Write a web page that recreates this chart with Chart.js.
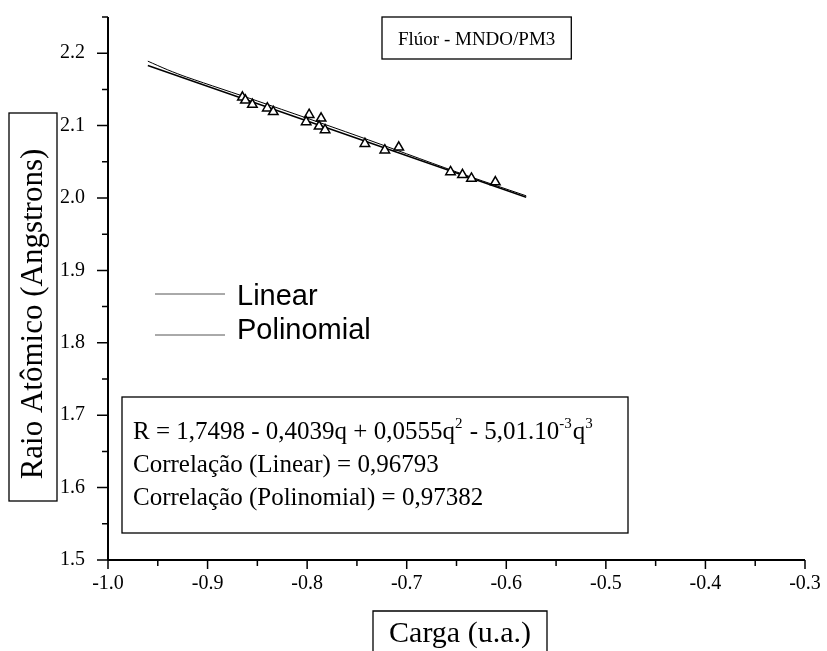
<!DOCTYPE html>
<html>
<head>
<meta charset="utf-8">
<script src="https://cdn.jsdelivr.net/npm/chart.js@4.4.1/dist/chart.umd.min.js"></script>
<style>
html, body { margin: 0; padding: 0; background: #fff; }
#wrap { width: 827px; height: 651px; }
</style>
</head>
<body>
<div id="wrap"><canvas id="raioChart" width="827" height="651"></canvas></div>
<script>
// valores
const carga = [-0.865, -0.862, -0.855, -0.840, -0.834, -0.798, -0.801, -0.786, -0.788,
    -0.782, -0.742, -0.722, -0.708, -0.656, -0.644, -0.635, -0.611];
const raio = [2.139, 2.135, 2.129, 2.124, 2.119, 2.115, 2.105, 2.110, 2.099,
    2.094, 2.075, 2.066, 2.070, 2.036, 2.032, 2.027, 2.022];

const linearX = [-0.960, -0.580];
const linearY = [2.183, 2.001];

const poliX = [-0.960, -0.940, -0.921, -0.850, -0.750, -0.650, -0.580];
const poliY = [2.189, 2.177, 2.167, 2.134, 2.086, 2.036, 2.003];

const xTicks = [-1.0, -0.9, -0.8, -0.7, -0.6, -0.5, -0.4, -0.3];
const yTicks = [1.5, 1.6, 1.7, 1.8, 1.9, 2.0, 2.1, 2.2];

const titulo = "Flúor - MNDO/PM3";
const tituloX = "Carga (u.a.)";
const tituloY = "Raio Atômico (Angstrons)";
const correlacoes = ["Correlação (Linear) = 0,96793", "Correlação (Polinomial) = 0,97382"];
// equação com expoentes: [texto, sobrescrito?]
const equacao = [["R = 1,7498 - 0,4039q + 0,0555q", false], ["2", true],
    [" - 5,01.10", false], ["-3", true], ["q", false], ["3", true]];

const serif = "'Liberation Serif', 'Times New Roman', serif";
const sans = "'Liberation Sans', Arial, sans-serif";

const toXY = (xs, ys) => xs.map((v, i) => ({ x: v, y: ys[i] }));

const decor = {
    id: "decor",
    afterDraw(chart) {
        const ctx = chart.ctx;
        const a = chart.chartArea;
        const x = chart.scales.x;
        const y = chart.scales.y;
        ctx.save();
        ctx.strokeStyle = "#000";
        ctx.fillStyle = "#000";

        // eixos
        ctx.lineWidth = 2;
        ctx.beginPath();
        ctx.moveTo(a.left, a.top);
        ctx.lineTo(a.left, a.bottom);
        ctx.moveTo(a.left, a.bottom);
        ctx.lineTo(a.right, a.bottom);
        ctx.stroke();

        ctx.lineWidth = 1.5;
        ctx.beginPath();
        yTicks.forEach(v => {
            const p = y.getPixelForValue(v);
            ctx.moveTo(a.left - 11, p);
            ctx.lineTo(a.left, p);
            const m = y.getPixelForValue(v + 0.05);
            ctx.moveTo(a.left - 6, m);
            ctx.lineTo(a.left, m);
        });
        xTicks.forEach((v, i) => {
            const p = x.getPixelForValue(v);
            ctx.moveTo(p, a.bottom);
            ctx.lineTo(p, a.bottom + 9);
            if (i < xTicks.length - 1) {
                const m = x.getPixelForValue(v + 0.05);
                ctx.moveTo(m, a.bottom);
                ctx.lineTo(m, a.bottom + 6);
            }
        });
        ctx.stroke();

        // título
        ctx.lineWidth = 1.3;
        ctx.font = "19px " + serif;
        ctx.textBaseline = "alphabetic";
        ctx.textAlign = "left";
        const tw = ctx.measureText(titulo).width;
        ctx.strokeRect(382, 17, tw + 32, 42);
        ctx.fillText(titulo, 398, 45);

        // título do eixo Y
        ctx.strokeRect(9, 113, 48, 388);
        ctx.save();
        ctx.translate(34, 314);
        ctx.rotate(-Math.PI / 2);
        ctx.font = "31px " + serif;
        ctx.textAlign = "center";
        ctx.textBaseline = "middle";
        ctx.fillText(tituloY, 0, 0);
        ctx.restore();

        // título do eixo X
        ctx.beginPath();
        ctx.moveTo(373, 660);
        ctx.lineTo(373, 611);
        ctx.lineTo(547, 611);
        ctx.lineTo(547, 660);
        ctx.stroke();
        ctx.font = "30px " + serif;
        ctx.textAlign = "center";
        ctx.fillText(tituloX, 460, 642);

        // legenda
        ctx.textAlign = "left";
        ctx.font = "29px " + sans;
        ctx.lineWidth = 1;
        const leg = [[chart.data.datasets[1], 294, 305], [chart.data.datasets[2], 335, 339]];
        leg.forEach(([ds, ly, ty]) => {
            ctx.strokeStyle = "#555";
            ctx.beginPath();
            ctx.moveTo(155, ly);
            ctx.lineTo(225, ly);
            ctx.stroke();
            ctx.fillText(ds.label, 237, ty);
        });

        // caixa da equação
        ctx.strokeStyle = "#000";
        ctx.lineWidth = 1.3;
        ctx.strokeRect(122, 397, 506, 136);
        let cx = 133;
        equacao.forEach(([t, sup]) => {
            ctx.font = (sup ? "15px " : "25px ") + serif;
            ctx.fillText(t, cx, sup ? 428 : 439);
            cx += ctx.measureText(t).width + (sup ? 1 : 0);
        });
        ctx.font = "25px " + serif;
        ctx.fillText(correlacoes[0], 133, 472);
        ctx.fillText(correlacoes[1], 133, 505);

        ctx.restore();
    }
};

new Chart(document.getElementById("raioChart"), {
    type: "scatter",
    data: {
        datasets: [
            {
                label: "Dados",
                data: toXY(carga, raio),
                pointStyle: "triangle",
                pointRadius: 5.5,
                borderColor: "#000",
                backgroundColor: "#fff",
                borderWidth: 1.5
            },
            {
                label: "Linear",
                data: toXY(linearX, linearY),
                showLine: true,
                pointRadius: 0,
                borderColor: "#000",
                borderWidth: 1.4
            },
            {
                label: "Polinomial",
                data: toXY(poliX, poliY),
                showLine: true,
                pointRadius: 0,
                tension: 0.3,
                borderColor: "#000",
                borderWidth: 1
            }
        ]
    },
    options: {
        responsive: false,
        devicePixelRatio: 1,
        animation: false,
        layout: { padding: { top: 17, right: 22, left: 0, bottom: 0 } },
        plugins: {
            legend: { display: false },
            tooltip: { enabled: false }
        },
        scales: {
            x: {
                type: "linear",
                min: -1.0,
                max: -0.3,
                afterBuildTicks: s => { s.ticks = xTicks.map(v => ({ value: v })); },
                afterFit: s => {
                    s.height = 91;
                    s.paddingLeft = 0;
                    s.paddingRight = 0;
                },
                grid: { display: false, drawTicks: false },
                border: { display: false },
                ticks: {
                    padding: 12,
                    color: "#000",
                    font: { family: serif, size: 20 },
                    callback: v => v.toFixed(1)
                }
            },
            y: {
                type: "linear",
                min: 1.5,
                max: 2.25,
                afterBuildTicks: s => { s.ticks = yTicks.map(v => ({ value: v })); },
                afterFit: s => {
                    s.width = 108;
                    s.paddingTop = 0;
                    s.paddingBottom = 0;
                },
                grid: { display: false, drawTicks: false },
                border: { display: false },
                ticks: {
                    padding: 23,
                    color: "#000",
                    font: { family: serif, size: 20 },
                    callback: v => v.toFixed(1)
                }
            }
        }
    },
    plugins: [decor]
});
</script>
</body>
</html>
